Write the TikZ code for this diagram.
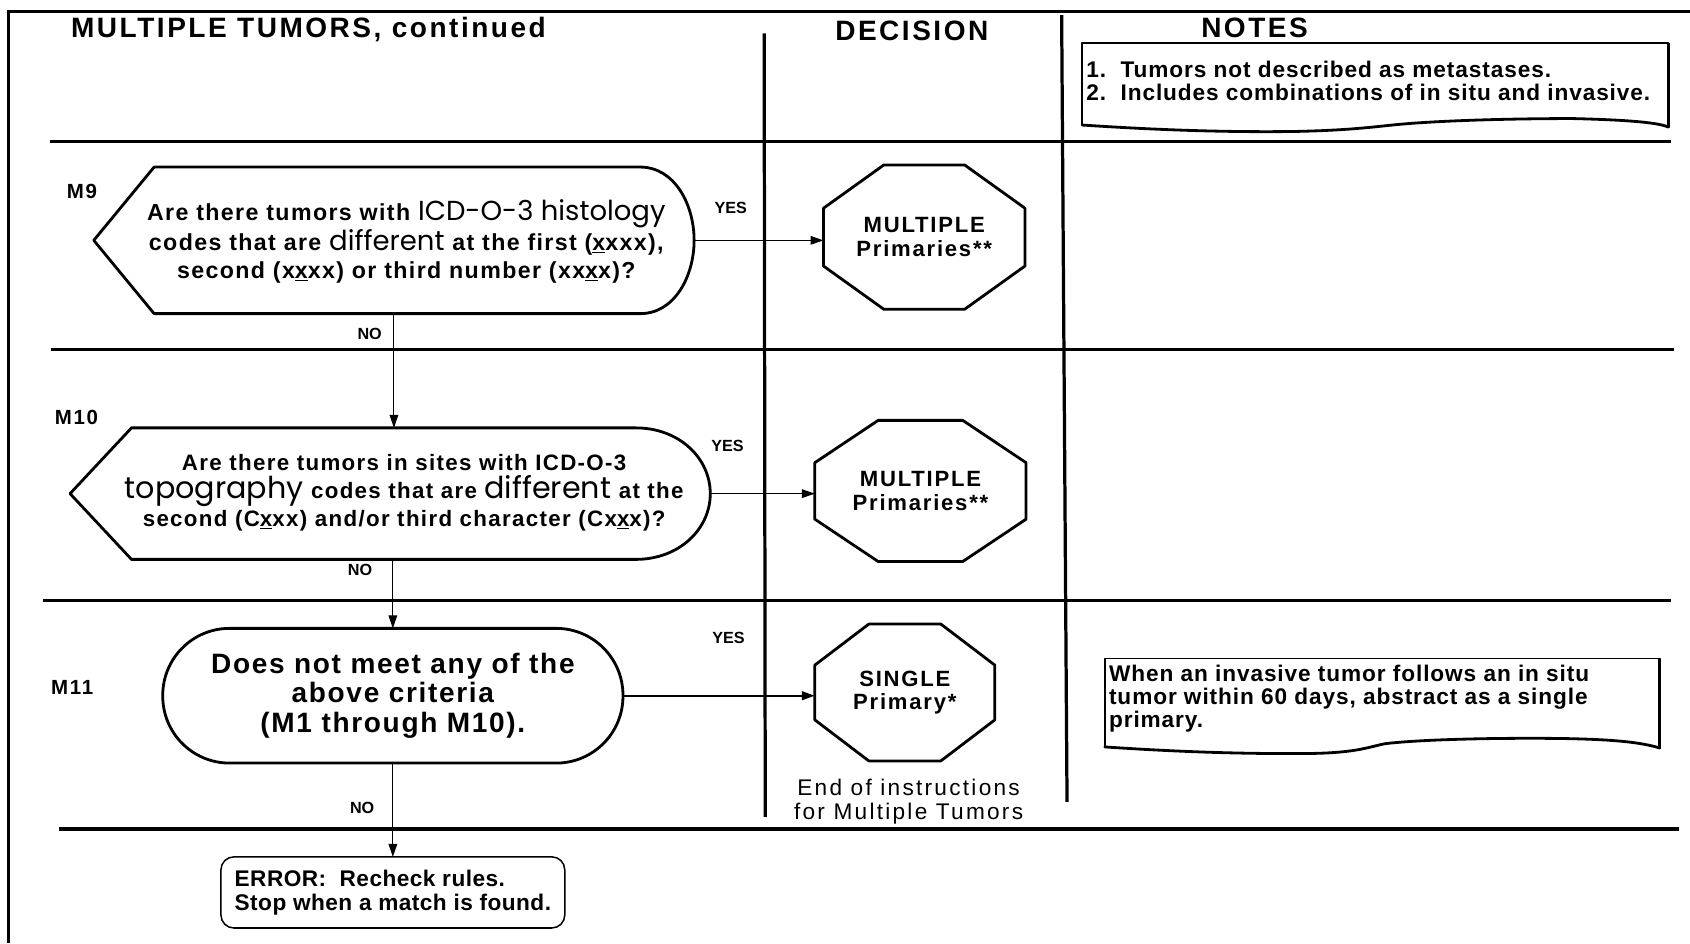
\documentclass[tikz,border=0pt]{standalone}
\usepackage{fontspec}
\setmainfont{Liberation Sans}
\newfontfamily\gothic{Poppins}
\newfontfamily\fHead[LetterSpace=9]{Liberation Sans}
\newfontfamily\fBody[LetterSpace=6]{Liberation Sans}
\newfontfamily\fBig[LetterSpace=6]{Liberation Sans}
\newfontfamily\fOct[LetterSpace=8]{Liberation Sans}
\newfontfamily\fEnd[LetterSpace=10]{Liberation Sans}
\newfontfamily\fNote[LetterSpace=4]{Liberation Sans}
\newfontfamily\fErr[LetterSpace=2]{Liberation Sans}
\newfontfamily\fLab[LetterSpace=8]{Liberation Sans}
\usetikzlibrary{arrows.meta,calc}
\newcommand\gth[2][25]{{\gothic\mdseries\fontsize{#1}{26}\selectfont #2}}
\newcommand\octo[1]{\draw[shp]
 ($(#1.north west)!0.3!(#1.north east)$) -- ($(#1.north west)!0.7!(#1.north east)$) --
 ($(#1.north east)!0.3!(#1.south east)$) -- ($(#1.north east)!0.7!(#1.south east)$) --
 ($(#1.south east)!0.3!(#1.south west)$) -- ($(#1.south east)!0.7!(#1.south west)$) --
 ($(#1.south west)!0.3!(#1.north west)$) -- ($(#1.south west)!0.7!(#1.north west)$) -- cycle;}
\tikzset{
 every node/.style={inner sep=0pt, outer sep=0pt},
 frame/.style={line width=3pt},
 hline/.style={line width=2.5pt},
 vline/.style={line width=3pt},
 shp/.style={line width=2.6pt, line join=round},
 notebox/.style={line width=1.4pt, line join=round},
 tear/.style={line width=2.6pt, line cap=round},
 conn/.style={line width=1pt, -{Triangle[length=12pt,width=8pt]}},
 hdr/.style={font=\fHead\bfseries\fontsize{26}{30}\selectfont},
 mlab/.style={font=\fLab\bfseries\fontsize{19}{22}\selectfont},
 yn/.style={font=\bfseries\fontsize{15}{18}\selectfont},
 bodyf/.style={font=\fBody\bfseries\fontsize{#1}{26}\selectfont, align=center},
 bigf/.style={font=\fBig\bfseries\fontsize{26}{27}\selectfont, align=center},
 octf/.style={font=\fOct\bfseries\fontsize{20.5}{22}\selectfont, align=center},
 notef/.style={font=\fNote\bfseries\fontsize{21}{21.5}\selectfont, align=left},
 endf/.style={font=\fEnd\fontsize{21}{22}\selectfont, align=center},
 errf/.style={font=\fErr\bfseries\fontsize{21}{22}\selectfont, align=left},
}
\begin{document}
\begin{tikzpicture}[x=1pt,y=-1pt]
\useasboundingbox (0,0) rectangle (1568,875);
% frame
\draw[frame] (1568,11) -- (8,11) -- (8,875);
% grid lines
\draw[vline] (709,31) -- (710,758);
\draw[vline] (985,14) -- (990,744);
\draw[hline] (46,131) -- (1550,131);
\draw[hline] (47,324) -- (1553,324);
\draw[hline] (40,557) -- (1550,557);
\draw[line width=3.2pt] (55,769) -- (1558,769);
% headers
\node[hdr, anchor=west] (h1) at (66,27) {MULTIPLE TUMORS, continued};
\node[hdr] (h2) at (846,29) {DECISION};
\node[hdr] (h3) at (1164,26) {NOTES};
% notes box 1
\draw[notebox, fill=white] (1004,116) -- (1004,40) -- (1548,40) -- (1548,118);
\draw[tear] (1548,118)
  .. controls (1538,113) and (1500,111) .. (1459,110)
  .. controls (1400,110) and (1330,112) .. (1292,116)
  .. controls (1272,118) and (1250,121) .. (1200,122)
  .. controls (1120,123) and (1050,119) .. (1004,116);
\draw[line width=3pt] (1548,40) -- (1548,118);
\node[notef, anchor=west] (n1) at (1008,75) {1.\ \ Tumors not described as metastases.\\2.\ \ Includes combinations of in situ and invasive.};
% row labels
\node[mlab] (l9) at (76,178) {M9};
\node[mlab] (l10) at (71,387) {M10};
\node[mlab] (l11) at (67,638) {M11};
% M9
\node[minimum width=557pt, minimum height=136pt] (m9) at (365.5,223) {};
\draw[shp] (m9.west) -- (143,155) -- (594,155) .. controls (626,155) and (644,190) .. (m9.east)
  .. controls (644,256) and (626,291) .. (594,291) -- (143,291) -- cycle;
\node[bodyf=21.5] (m9t) at (377,224) {Are there tumors with \gth[25.5]{ICD-O-3 histology}\\codes that are \gth[25.5]{different} at the first (\underline{x}xxx),\\second (x\underline{x}xx) or third number (xx\underline{x}x)?};
% decision 1
\node[octf, minimum width=187pt, minimum height=134pt] (d1) at (857.5,220) {MULTIPLE\\Primaries**};
\octo{d1}
% M10
\node[minimum width=594pt, minimum height=122pt] (m10) at (362,458) {};
\draw[shp] (m10.west) -- (122,397) -- (590,397) .. controls (630,397) and (659,425) .. (m10.east)
  .. controls (659,491) and (630,519) .. (590,519) -- (122,519) -- cycle;
\node[bodyf=20.7] (m10t) at (375,457) {Are there tumors in sites with ICD-O-3\\\gth[28]{topography} codes that are \gth[28]{different} at the\\second (C\underline{x}xx) and/or third character (Cx\underline{x}x)?};
% decision 2
\node[octf, minimum width=196pt, minimum height=131pt] (d2) at (854,455.5) {MULTIPLE\\Primaries**};
\octo{d2}
% M11
\node[bigf, draw, line width=2.6pt, minimum width=427pt, minimum height=125pt, rounded corners=62pt] (m11) at (364.5,645.5) {Does not meet any of the\\above criteria\\(M1 through M10).};
% decision 3
\node[octf, minimum width=167pt, minimum height=127pt] (d3) at (839.5,642.5) {SINGLE\\Primary*};
\octo{d3}
\node[endf] (eoi) at (843,744) {End of instructions\\for Multiple Tumors};
% notes box 2
\draw[notebox, fill=white] (1025,693) -- (1025,611) -- (1540,611) -- (1540,694);
\draw[tear] (1540,694)
  .. controls (1520,688) and (1490,685) .. (1420,685)
  .. controls (1360,685) and (1310,687) .. (1285,690)
  .. controls (1270,693) and (1260,698) .. (1220,699)
  .. controls (1140,700) and (1070,696) .. (1025,693);
\draw[line width=3pt] (1540,611) -- (1540,694);
\node[notef, anchor=west] (n2) at (1029,648) {When an invasive tumor follows an in situ\\tumor within 60 days, abstract as a single\\primary.};
% error box
\node[errf, draw, line width=1.4pt, rounded corners=12pt, minimum width=319pt, minimum height=66pt] (err) at (364.5,828) {ERROR:\ \ Recheck rules.\\Stop when a match is found.};
% YES / NO
\node[yn] (y9) at (678,193) {YES};
\node[yn] (n9) at (343,310) {NO};
\node[yn] (y10) at (675,414) {YES};
\node[yn] (n10) at (334,529) {NO};
\node[yn] (y11) at (676,592) {YES};
\node[yn] (n11) at (336,750) {NO};
% connectors
\draw[conn] (m9.east) -- (m9.east -| d1.west);
\draw[conn] (m10.east) -- (m10.east -| d2.west);
\draw[conn, line width=2pt] (m11.east) -- (m11.east -| d3.west);
\draw[conn] (m9.south) -- (m9.south |- m10.north);
\draw[conn] (m11.north |- m10.south) -- (m11.north);
\draw[conn] (m11.south) -- (err.north);
\end{tikzpicture}
\end{document}
